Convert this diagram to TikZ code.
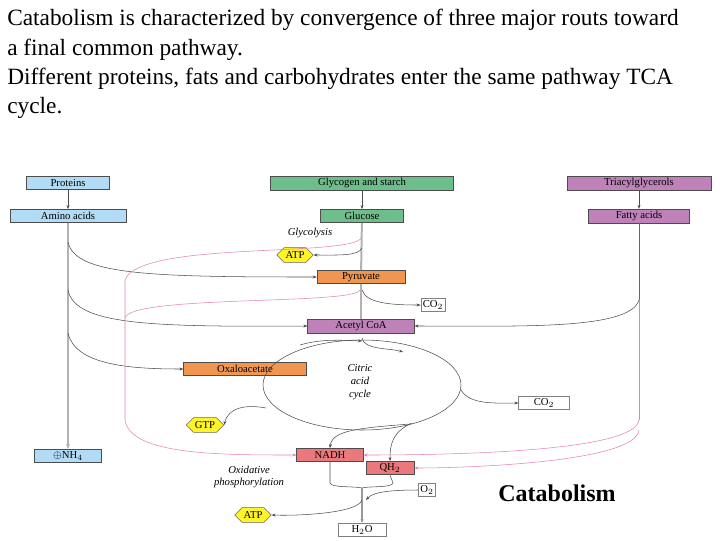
\documentclass[tikz,border=0pt]{standalone}
\usepackage{fontspec}
\setmainfont{Liberation Serif}
\usetikzlibrary{shapes.symbols,arrows.meta}
\definecolor{pblue}{RGB}{178,220,245}
\definecolor{pgreen}{RGB}{110,190,140}
\definecolor{ppurple}{RGB}{190,130,185}
\definecolor{porange}{RGB}{240,150,80}
\definecolor{pred}{RGB}{235,120,125}
\definecolor{ppink}{RGB}{225,130,185}
\tikzset{box/.style={draw=black!70,inner sep=1.5pt,minimum height=10pt,font=\footnotesize},
  plain/.style={box,fill=white,draw=black!50},
  energy/.style={signal,signal to=east and west,draw=black!60,fill=yellow!85,font=\footnotesize,inner sep=1pt,minimum height=11pt},
  arrow/.style={black!70,->,>={Stealth[length=3pt]}},
  trunk/.style={black!30,line width=1.5pt},
  pinkline/.style={ppink,->,>={Stealth[length=3pt]}}}
\begin{document}
\begin{tikzpicture}[x=0.75pt,y=-0.75pt]
\useasboundingbox (0,0) rectangle (720,540);
\node[anchor=north west,align=left,font=\fontsize{17.5}{22}\selectfont,inner sep=0pt] (title) at (7,9)
 {Catabolism is characterized by convergence of three major routs toward\\a final common pathway.\\Different proteins, fats and carbohydrates enter the same pathway TCA\\cycle.};
% sources
\node[box,fill=pblue,minimum width=62pt] (prot) at (68,183) {Proteins};
\node[box,fill=pblue,minimum width=87pt] (amino) at (68,216) {Amino acids};
\node[box,fill=pgreen,minimum width=137pt] (glyc) at (362,183) {Glycogen and starch};
\node[box,fill=pgreen,minimum width=62pt] (gluc) at (362,216) {Glucose};
\node[box,fill=ppurple,minimum width=108pt] (tri) at (639,183) {Triacylglycerols};
\node[box,fill=ppurple,minimum width=76pt] (fatty) at (639,216) {Fatty acids};
\node[font=\footnotesize\itshape] (glytxt) at (310,233) {Glycolysis};
\node[energy] (atpa) at (295,255) {ATP};
\node[box,fill=porange,minimum width=66pt] (pyr) at (361,277) {Pyruvate};
\node[plain] (coa) at (433,305) {CO$_2$};
\node[box,fill=ppurple,minimum width=80pt] (acoa) at (361,326) {Acetyl CoA};
\node[box,fill=porange,minimum width=92pt] (oxa) at (245,369) {Oxaloacetate};
\node[font=\footnotesize\itshape,align=center] (cyc) at (360,382) {Citric\\acid\\cycle};
\node[plain,minimum width=38pt] (cob) at (544,403) {CO$_2$};
\node[energy] (gtp) at (205,425) {GTP};
\node[box,fill=pblue,minimum width=50pt] (nh4) at (68,456) {$\oplus$NH$_4$};
\node[box,fill=pred,minimum width=50pt] (nadh) at (330,455) {NADH};
\node[box,fill=pred,minimum width=36pt] (qh2) at (390,468) {QH$_2$};
\node[font=\footnotesize\itshape,align=center] (oxp) at (249,477) {Oxidative\\phosphorylation};
\node[plain] (o2) at (427,490) {O$_2$};
\node[energy] (atpb) at (253,515) {ATP};
\node[plain,minimum width=36pt] (h2o) at (362,530) {H$_2$O};
\node[font=\fontsize{18}{20}\selectfont\bfseries] (cat) at (557,493) {Catabolism};
% straight steps
\draw[arrow] (prot) -- (amino);
\draw[arrow] (glyc) -- (gluc);
\draw[arrow] (tri) -- (fatty);
\draw[trunk] (gluc) -- (pyr);
\draw[trunk] (pyr) -- (acoa);
\draw[trunk,->,>={Stealth[length=4pt]}] (amino) -- (nh4);
% amino acid branches
\draw[arrow] (68,242) .. controls (75,275) and (150,277) .. (pyr.west);
\draw[arrow] (68,290) .. controls (75,325) and (150,327) .. (acoa.west);
\draw[arrow] (68,333) .. controls (75,365) and (130,369) .. (oxa.west);
% fatty acids
\draw[black!60] (fatty) -- (639,300);
\draw[arrow] (639,300) .. controls (630,330) and (520,326) .. (acoa.east);
% pink reduced carriers
\draw[ppink] (362,237) .. controls (355,258) and (140,240) .. (125,280) -- (125,420);
\draw[pinkline] (125,420) .. controls (130,455) and (220,455) .. (nadh.west);
\draw[ppink] (360,290) .. controls (355,305) and (130,295) .. (125,318);
\draw[ppink] (639,300) -- (639,420);
\draw[pinkline] (639,420) .. controls (635,452) and (450,455) .. (nadh.east);
\draw[pinkline] (639,430) .. controls (636,462) and (470,468) .. (qh2.east);
% small branches
\draw[arrow] (362,248) .. controls (358,256) and (340,255) .. (atpa.east);
\draw[arrow] (362,290) .. controls (366,303) and (390,305) .. (coa.west);
\draw[arrow] (362,338) .. controls (364,350) and (390,348) .. (403,352);
% cycle
\draw[black!70] (362,385) ellipse [x radius=99,y radius=45];
\draw[arrow] (300,345) .. controls (320,339) and (340,340) .. (362,341);
\draw[arrow] (461,390) .. controls (470,405) and (495,403) .. (cob.west);
\draw[arrow] (266,408) .. controls (245,404) and (228,408) .. (gtp.east);
\draw[arrow] (410,424) .. controls (360,428) and (332,430) .. (nadh.north);
\draw[arrow] (412,423) .. controls (392,432) and (390,445) .. (qh2.north);
% oxidative phosphorylation
\coordinate (join) at (362,488);
\draw[black!70] (nadh.south) -- (330,483) .. controls (331,488) and (355,486) .. (join);
\draw[black!70] (qh2.south) -- (393,483) .. controls (392,488) and (368,486) .. (join);
\draw[trunk,black!40,line width=1pt,->,>={Stealth[length=3pt]}] (join) -- (h2o);
\draw[arrow] (o2.west) .. controls (385,490) and (372,493) .. (366,500);
\draw[arrow] (362,500) .. controls (358,513) and (300,516) .. (atpb.east);
\end{tikzpicture}
\end{document}
